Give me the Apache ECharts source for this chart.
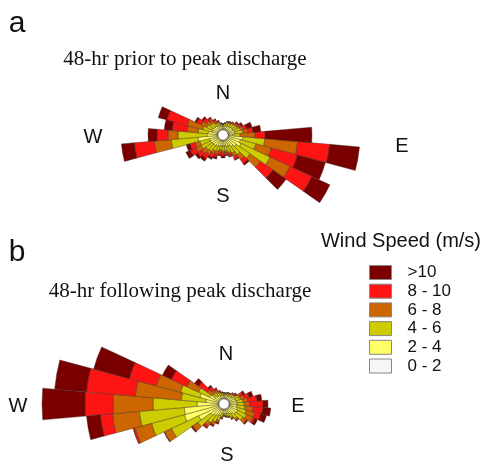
<!DOCTYPE html>
<html><head><meta charset="utf-8">
<script src="https://cdn.jsdelivr.net/npm/echarts@6/dist/echarts.min.js"></script>
<style>html,body{margin:0;padding:0;background:#fff}#c{width:491px;height:464px}</style>
</head><body><div id="c"></div>
<script>
// Direction sectors (degrees clockwise from north), 10-degree bins
const directions = ['0','10','20','30','40','50','60','70','80','90','100','110','120','130','140','150','160','170',
  '180','190','200','210','220','230','240','250','260','270','280','290','300','310','320','330','340','350'];
const speedClasses = ['0 - 2','2 - 4','4 - 6','6 - 8','8 - 10','>10'];
const legendOrder = ['>10','8 - 10','6 - 8','4 - 6','2 - 4','0 - 2'];
const classColors = ['#f6f6f6','#ffff66','#cccc00','#cc6600','#ff1414','#7a0000'];

// (a) 48-hr prior to peak discharge — frequency per direction, by speed class
const prior_0_2  = [1,1,1,1,1,1,1,1,1,1,1,1,1,1,1,1,1,1,1,1,1,1,1,1,1,1,1,1,1,1,1,1,1,1,1,1];
const prior_2_4  = [3,3,4,4,4,5,5,6,6,4,14,12,14,10,8,6,6,5,5,5,6,6,7,7,8,8,19,10,9,5,6,5,5,4,4,3];
const prior_4_6  = [2,3,3,3,4,4,5,6,8,7,22,16,32,17,10,8,6,5,5,4,5,6,7,8,10,10,27,29,10,10,6,5,4,3,3,2];
const prior_6_8  = [0,0,1,1,1,2,2,3,5,15,33,16,22,13,6,4,2,2,2,2,3,3,4,5,6,5,17,10,11,16,6,4,3,2,1,1];
const prior_8_10 = [0,0,0,1,1,1,2,3,5,10,32,27,24,15,5,3,2,2,3,3,3,4,5,5,6,5,20,11,15,21,5,4,3,2,1,0];
const prior_gt10 = [0,0,0,0,0,1,2,6,8,47,30,29,20,16,2,1,1,1,2,1,2,2,3,3,5,4,13,9,8,9,2,2,1,1,0,0];

// (b) 48-hr following peak discharge
const follow_0_2  = [1,1,1,1,1,1,1,1,1,1,1,1,1,1,1,1,1,1,1,1,1,1,1,1,1,1,1,1,1,1,1,1,1,1,1,1];
const follow_2_4  = [3,3,3,3,4,4,6,6,7,7,7,8,9,8,6,5,4,4,4,4,6,7,8,10,22,35,34,21,12,19,10,5,4,4,3,3];
const follow_4_6  = [2,2,2,2,2,3,4,5,6,7,8,9,10,9,6,4,3,2,2,3,5,7,9,16,30,34,45,44,25,20,12,3,4,3,3,2];
const follow_6_8  = [0,0,1,1,1,1,2,4,5,6,8,9,7,4,2,2,1,1,0,1,2,3,4,6,8,17,27,40,46,25,13,6,3,2,1,1];
const follow_8_10 = [0,0,0,0,1,1,3,5,9,13,10,6,2,1,1,0,0,0,0,1,1,1,2,1,0,2,12,28,49,28,17,11,4,2,1,0];
const follow_gt10 = [0,0,0,0,0,1,2,4,5,5,8,6,3,1,0,0,0,0,0,0,1,1,1,1,0,0,14,43,32,37,10,5,2,1,0,0];

const priorSeries = [prior_0_2, prior_2_4, prior_4_6, prior_6_8, prior_8_10, prior_gt10];
const followSeries = [follow_0_2, follow_2_4, follow_4_6, follow_6_8, follow_8_10, follow_gt10];

const chart = echarts.init(document.getElementById('c'), null, {renderer: 'canvas'});

function angleAxis(i) {
  return {polarIndex: i, type: 'category', data: directions, startAngle: 95, clockwise: true,
    boundaryGap: true, axisLine: {show: false}, axisTick: {show: false}, axisLabel: {show: false},
    splitLine: {show: false}, splitArea: {show: false}};
}
function radiusAxis(i, max) {
  return {polarIndex: i, type: 'value', min: 0, max: max, axisLine: {show: false}, axisTick: {show: false},
    axisLabel: {show: false}, splitLine: {show: false}, splitArea: {show: false}};
}
function makeSeries(arrs, polarIndex, stack) {
  return arrs.map((d, k) => ({
    name: speedClasses[k], type: 'bar', coordinateSystem: 'polar', polarIndex: polarIndex, stack: stack,
    data: d, barCategoryGap: '0%', barGap: '0%', silent: true, animation: false,
    itemStyle: {color: classColors[k], borderColor: '#3a2a20', borderWidth: 0.4}
  }));
}
function txt(text, x, y, font, align) {
  return {type: 'text', x: x, y: y, silent: true,
    style: {text: text, font: font, fill: '#111', align: align || 'center', verticalAlign: 'middle'}};
}

chart.setOption({
  backgroundColor: '#ffffff',
  animation: false,
  polar: [
    {center: [223, 135], radius: [5, 145]},
    {center: [224, 404], radius: [5, 185]}
  ],
  angleAxis: [angleAxis(0), angleAxis(1)],
  radiusAxis: [radiusAxis(0, 140), radiusAxis(1, 180)],
  legend: {
    data: legendOrder, orient: 'vertical', left: 369, top: 264, padding: 0, icon: 'rect',
    itemWidth: 22, itemHeight: 14, itemGap: 1.7, selectedMode: false,
    itemStyle: {borderColor: '#888', borderWidth: 1},
    textStyle: {fontSize: 17, fontFamily: 'Liberation Sans, Arial', color: '#111', lineHeight: 14, padding: [0, 0, 0, 11]}
  },
  series: makeSeries(priorSeries, 0, 'prior').concat(makeSeries(followSeries, 1, 'follow')),
  graphic: [
    txt('a', 17, 24, '30px "Liberation Sans", Arial'),
    txt('48-hr prior to peak discharge', 185, 59, '21px "Liberation Serif", "Times New Roman", serif'),
    txt('N', 223, 93, '20px "Liberation Sans", Arial'),
    txt('S', 223, 196, '20px "Liberation Sans", Arial'),
    txt('W', 93, 137, '20px "Liberation Sans", Arial'),
    txt('E', 402, 146, '20px "Liberation Sans", Arial'),
    txt('b', 17, 253, '30px "Liberation Sans", Arial'),
    txt('48-hr following peak discharge', 180, 291, '21px "Liberation Serif", "Times New Roman", serif'),
    txt('Wind Speed (m/s)', 401, 241, '20px "Liberation Sans", Arial'),
    txt('N', 226, 354, '20px "Liberation Sans", Arial'),
    txt('S', 227, 455, '20px "Liberation Sans", Arial'),
    txt('W', 18, 406, '20px "Liberation Sans", Arial'),
    txt('E', 298, 406, '20px "Liberation Sans", Arial')
  ]
});
</script>
</body></html>
